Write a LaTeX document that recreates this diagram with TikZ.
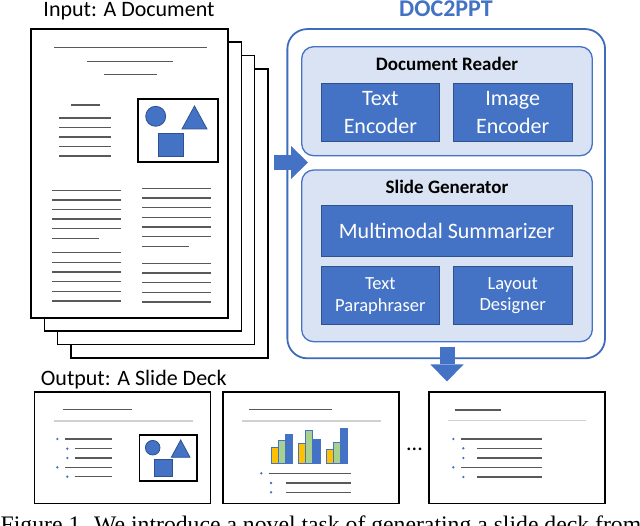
\documentclass[tikz,border=0pt]{standalone}
\usepackage{fontspec}
\setmainfont{Carlito}
\newfontfamily\capfont{Liberation Serif}
\usetikzlibrary{arrows.meta}
\definecolor{msblue}{HTML}{4472C4}
\definecolor{msedge}{HTML}{2F528F}
\definecolor{mslight}{HTML}{DAE3F3}
\definecolor{outerblue}{HTML}{3E6BBA}
\definecolor{msyellow}{HTML}{FFC000}
\definecolor{msgreen}{HTML}{A9D18E}
\definecolor{linegray}{HTML}{595959}
\definecolor{palegray}{HTML}{D0D0D0}
\tikzset{
  page/.style={draw=black, line width=1.6pt, fill=white, minimum width=197pt, minimum height=289pt, inner sep=0pt},
  txtline/.style={draw=linegray, line width=1.3pt},
  paleline/.style={draw=palegray, line width=1.4pt},
  figbox/.style={draw=black, line width=1.6pt, fill=white, inner sep=0pt},
  shapefill/.style={fill=msblue, draw=msedge, line width=0.8pt, inner sep=0pt},
  outerbox/.style={draw=outerblue, line width=1.8pt, fill=white, rounded corners=20pt, inner sep=0pt},
  groupbox/.style={draw=msblue, line width=1.3pt, fill=mslight, rounded corners=12pt, inner sep=0pt},
  grouplabel/.style={anchor=base, font=\bfseries\fontsize{19}{22}\selectfont},
  modbox/.style={fill=msblue, draw=msedge, line width=1pt, text=white, align=center, inner sep=0pt, font=\fontsize{22}{28}\selectfont},
  smallmod/.style={modbox, font=\fontsize{18.5}{21.5}\selectfont},
  slide/.style={draw=black, line width=1.6pt, fill=white, minimum width=176pt, minimum height=111pt, inner sep=0pt},
  bar/.style={draw=msblue, line width=0.8pt},
  blockarrow/.style={draw=msblue, line width=15pt, -{Triangle[length=17pt, width=33pt, line width=0pt]}},
  heading/.style={font=\fontsize{22}{26}\selectfont, inner sep=0pt}
}
\begin{document}
\begin{tikzpicture}[x=1pt, y=-1pt]
\useasboundingbox (0,0) rectangle (640,526);
\clip (0,0) rectangle (640,526);

% input document
\node[heading, anchor=base] (intitle) at (129,16.7) {Input: A Document};
\foreach \i in {4,3,2,1}
  \node[page] (page\i) at ({129.5+13.3*(\i-1)},{173.5+13.3*(\i-1)}) {};
\draw[txtline] (54,47.7) -- (207,47.7);
\draw[txtline] (87,61.7) -- (173,61.7);
\draw[txtline] (104,74.3) -- (157,74.3);
\draw[txtline] (71,105) -- (100,105);
\foreach \y in {118,127.5,137,146.5,156}
  \draw[txtline] (59,\y) -- (111,\y);
\foreach \y in {190.3,200,209.7,219,228.7,252.7,262.3,272,281.7,291.3,301}
  \draw[txtline] (52,\y) -- (121,\y);
\draw[txtline] (52,238.7) -- (99.3,238.7);
\foreach \y in {188.3,198,207.7,217.3,227,236.7,263.3,273,282.7,292.3,302}
  \draw[txtline] (142,\y) -- (210.7,\y);
\draw[txtline] (142,246.3) -- (189,246.3);
\node[figbox, minimum width=80pt, minimum height=63pt] (docfig) at (178,130.5) {};
\node[shapefill, circle, minimum size=20pt] (docround) at (155.7,116.3) {};
\node[shapefill, minimum width=25pt, minimum height=23.4pt] (docsquare) at (171.2,145) {};
\draw[shapefill] (182,129) -- (194.5,106) -- (207,129) -- cycle;

% DOC2PPT
\node[anchor=base, text=msblue, font=\bfseries\fontsize{24}{28}\selectfont] (systitle) at (446,17) {DOC2PPT};
\node[outerbox, minimum width=317.7pt, minimum height=329.3pt] (doc2ppt) at (446.2,193.7) {};
\node[groupbox, minimum width=290.6pt, minimum height=109pt] (reader) at (447,101.2) {};
\node[grouplabel] (readerlbl) at (447,70.7) {Document Reader};
\node[modbox, minimum width=117.3pt, minimum height=58.4pt] (textenc) at (380.35,112.5) {Text\\Encoder};
\node[modbox, minimum width=118.7pt, minimum height=58.4pt] (imgenc) at (512.65,112.5) {Image\\Encoder};
\node[groupbox, minimum width=290.6pt, minimum height=171.7pt] (sgen) at (447,255.85) {};
\node[grouplabel] (sgenlbl) at (447,193.3) {Slide Generator};
\node[modbox, minimum width=250.3pt, minimum height=51pt] (summ) at (446.85,231.2) {Multimodal Summarizer};
\node[smallmod, minimum width=117.3pt, minimum height=58.3pt] (para) at (380.35,295.85) {Text\\Paraphraser};
\node[smallmod, minimum width=118.7pt, minimum height=58.3pt] (layout) at (512.65,295.85) {Layout\\Designer};

% output slides
\node[heading, anchor=base west] (outtitle) at (40.7,385.7) {Output: A Slide Deck};
\foreach \n/\x in {1/122.65, 2/311.15, 3/516.85}
  \node[slide] (slide\n) at (\x,447.8) {};
\node[heading, anchor=base] (more) at (414.5,450.5) {...};

% slide 1
\draw[txtline] (63.3,409.7) -- (132.3,409.7);
\draw[paleline] (54.3,421) -- (192.7,421);
\foreach \y in {439,467.3} {
  \fill[msblue] (57.3,\y) circle (1.3pt);
  \draw[txtline] (65.3,\y) -- (112,\y);
}
\foreach \y in {448.7,458,476.7} {
  \fill[msblue] (67.3,\y) circle (1.3pt);
  \draw[txtline] (74.7,\y) -- (112,\y);
}
\node[figbox, minimum width=57.4pt, minimum height=45.4pt] (slidefig) at (168,458) {};
\node[shapefill, circle, minimum size=14.6pt] (slideround) at (152.7,447.7) {};
\node[shapefill, minimum width=18pt, minimum height=17.4pt] (slidesquare) at (163.7,468) {};
\draw[shapefill] (171.3,457.3) -- (180.7,440) -- (190,457.3) -- cycle;

% slide 2
\draw[txtline] (249.3,409.7) -- (332,409.7);
\draw[paleline] (242,421) -- (380.7,421);
\foreach \x/\top in {271.3/447.3, 298.7/443.7, 326.3/449.3}
  \draw[bar, fill=msyellow] (\x,\top) rectangle ++(6.7,{463.7-\top});
\foreach \x/\top in {278/440, 305.4/430.7, 333/442.3}
  \draw[bar, fill=msgreen] (\x,\top) rectangle ++(7.3,{463.7-\top});
\foreach \x/\top in {285.3/434.3, 312.7/439, 340.3/428.3}
  \draw[bar, fill=msblue] (\x,\top) rectangle ++(7.3,{463.7-\top});
\fill[msblue] (261.3,473.3) circle (1.3pt);
\draw[txtline] (268.7,473.3) -- (351,473.3);
\foreach \y in {483,492.3} {
  \fill[msblue] (271,\y) circle (1.3pt);
  \draw[txtline] (286,\y) -- (351,\y);
}

% slide 3
\draw[txtline] (454.7,410) -- (501.3,410);
\draw[paleline] (447.7,420.7) -- (586,420.7);
\foreach \y in {439,467.3} {
  \fill[msblue] (453.3,\y) circle (1.3pt);
  \draw[txtline] (461,\y) -- (542,\y);
}
\foreach \y in {448.3,458,477} {
  \fill[msblue] (463.3,\y) circle (1.3pt);
  \draw[txtline] (477.3,\y) -- (542,\y);
}

% block arrows
\coordinate (feedL) at (273.5,162.5);
\coordinate (feedR) at (308,162.5);
\draw[blockarrow] (feedL) -- (feedR);
\draw[blockarrow] ([yshift=-5pt]sgen.south) -- ([yshift=10pt]slide3.north -| sgen.south);

% caption (cut off by the frame)
\node[anchor=base west, inner sep=0pt, font=\capfont\fontsize{23.7}{28}\selectfont] (caption) at (0.5,532)
  {Figure 1. We introduce a novel task of generating a slide deck from};
\end{tikzpicture}
\end{document}
